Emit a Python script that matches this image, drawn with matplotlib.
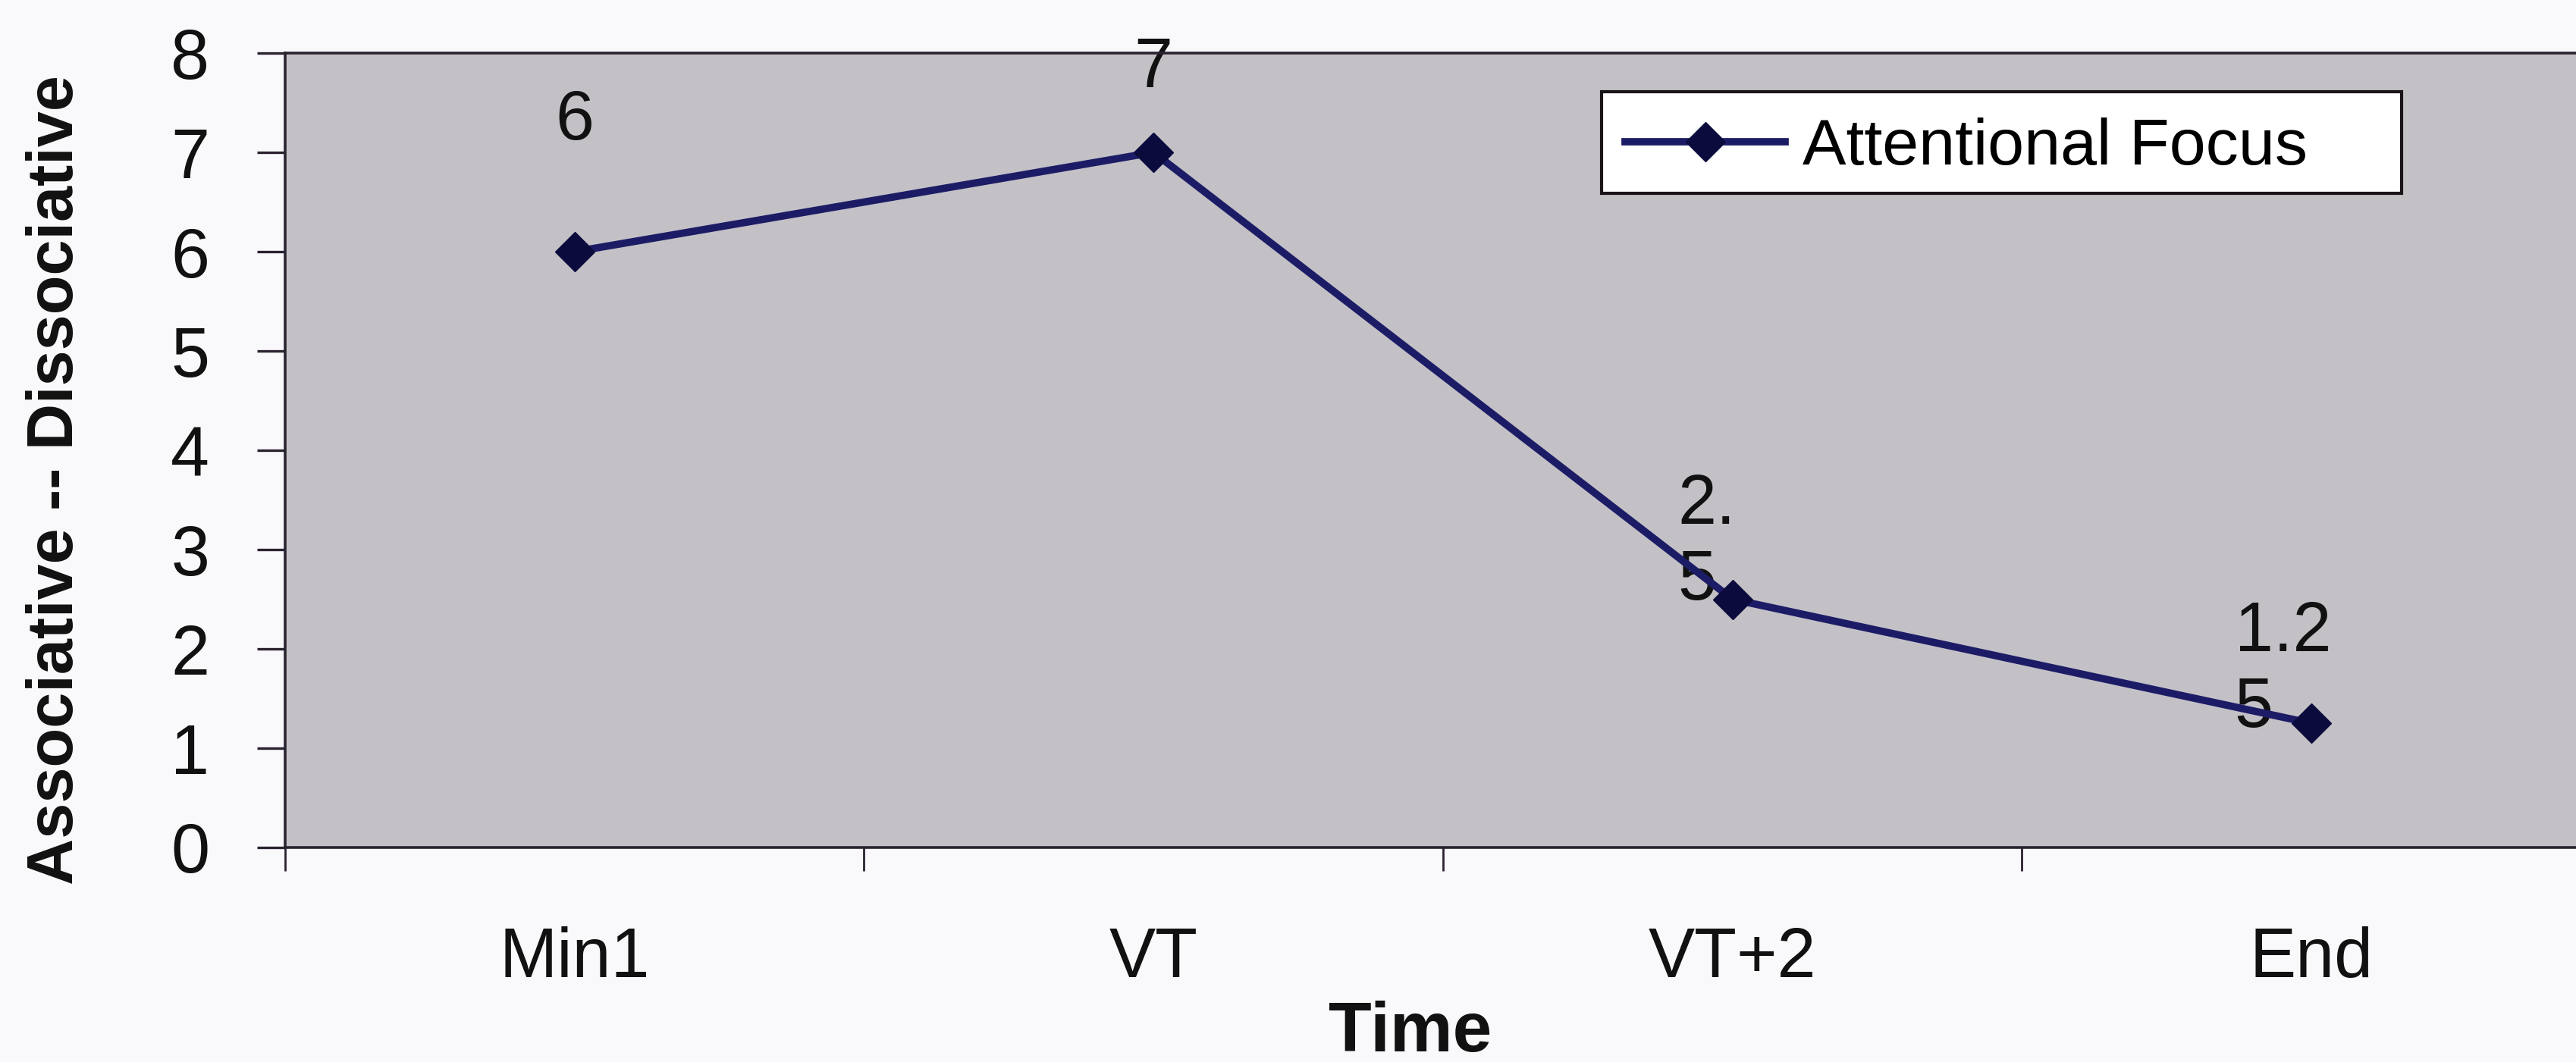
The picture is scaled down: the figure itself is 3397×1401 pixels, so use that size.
import matplotlib
matplotlib.use("Agg")
import matplotlib.pyplot as plt
from matplotlib.patches import Rectangle

# ================== data ==================
time_points = ["Min1", "VT", "VT+2", "End"]
attentional_focus = [6, 7, 2.5, 1.25]
value_labels = ["6", "7", "2.\n5", "1.2\n5"]
y_ticks = [0, 1, 2, 3, 4, 5, 6, 7, 8]

# where each value label sits relative to its point (points), and alignment
label_offsets = [(0, 124), (0, 79), (-52, 53), (-73, 50)]
label_ha = ["center", "center", "left", "left"]

# ================== style ==================
plt.rcParams['font.family'] = ['Liberation Sans', 'DejaVu Sans']
SPINE = '#2b2230'
LINE = '#1c1c66'
MARK = '#0b0b3d'

fig = plt.figure(figsize=(33.97, 14.01), dpi=100, facecolor='#f9f9fb')
ax = fig.add_axes([0.1107, 0.202, 1 - 0.1107, 0.95 - 0.202])
ax.set_facecolor('#c3c1c5')

x = list(range(len(time_points)))
ax.plot(x, attentional_focus, color=LINE, lw=7, marker='D', markersize=26,
        markerfacecolor=MARK, markeredgecolor=MARK, label='Attentional Focus',
        zorder=3, clip_on=False)

for xi, yi, txt, off, ha in zip(x, attentional_focus, value_labels, label_offsets, label_ha):
    ax.annotate(txt, (xi, yi), xytext=off, textcoords='offset points',
                ha=ha, va='center', multialignment='left', fontsize=66,
                color='#111111', zorder=1)

ax.set_xlim(-0.5, 3.457)
ax.set_ylim(0, 8)

# axes frame
ax.spines['right'].set_visible(False)
for side in ['left', 'top', 'bottom']:
    ax.spines[side].set_color(SPINE)
    ax.spines[side].set_linewidth(2.6)

ax.set_yticks(y_ticks)
ax.tick_params(axis='y', length=27, width=2.4, pad=45, labelsize=66,
               color=SPINE, labelcolor='#111111')

ax.set_xticks(x)
ax.set_xticklabels(time_points)
ax.set_xticks([-0.5, 0.5, 1.5, 2.5], minor=True)
ax.tick_params(axis='x', which='major', length=0, pad=75, labelsize=66,
               labelcolor='#111111')
ax.tick_params(axis='x', which='minor', length=22, width=2, color=SPINE)

ax.set_xlabel('Time', fontsize=67, fontweight='bold', color='#111111')
ax.xaxis.set_label_coords(0.491, -0.193)
ax.xaxis.label.set_va('top')

ax.set_ylabel('Associative -- Dissociative', fontsize=61, fontweight='bold',
              color='#111111', va='center')
ax.yaxis.set_label_coords(-0.1, 0.463)

# legend: white box drawn separately so it can be wider than its content
legend_box = Rectangle((0.6217, 0.818), 0.3106, 0.0956, transform=fig.transFigure,
                       facecolor='white', edgecolor='#1a1418', linewidth=3,
                       zorder=4, clip_on=False)
ax.add_patch(legend_box)
leg = ax.legend(loc='center left', bbox_to_anchor=(0.6309, 0.8608),
                bbox_transform=fig.transFigure, fontsize=62, frameon=False,
                borderpad=0, handlelength=2.45, handletextpad=0.26,
                borderaxespad=0)
leg.set_zorder(5)

fig.savefig('out.png', dpi=100, facecolor=fig.get_facecolor())
